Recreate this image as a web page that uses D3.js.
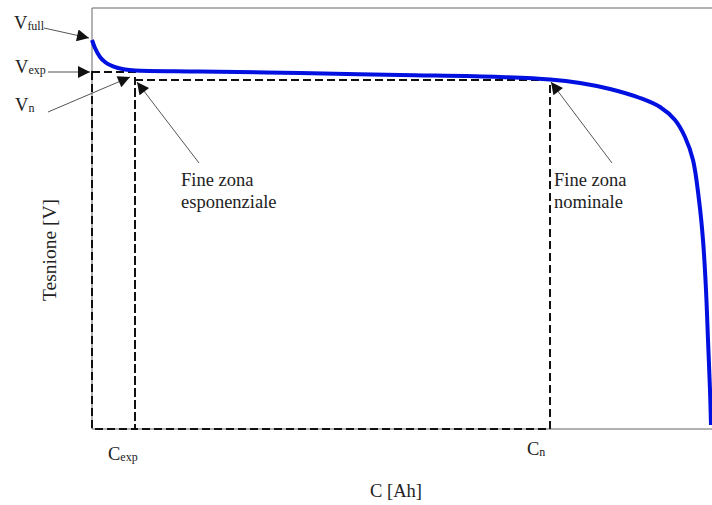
<!DOCTYPE html>
<html>
<head>
<meta charset="utf-8">
<script src="https://cdn.jsdelivr.net/npm/d3@7"></script>
<style>
  html, body { margin: 0; padding: 0; background: #fff; }
  svg text { font-family: "Liberation Serif", "Times New Roman", serif; fill: #222; }
</style>
</head>
<body>
<div id="chart"></div>
<script>
// ---- data ----
const CAPACITY = [0, 0.03, 0.08, 0.13, 0.18, 0.26, 0.33, 0.43, 1.08, 2.08, 3.08, 4.08, 4.58,
                  4.88, 5.18, 5.48, 5.68, 5.83, 5.93, 6.01, 6.07, 6.11, 6.14, 6.16, 6.18, 6.19];
const VOLTAGE  = [3.89, 3.81, 3.72, 3.67, 3.64, 3.61, 3.595, 3.585, 3.575, 3.56, 3.54, 3.52, 3.495,
                  3.46, 3.40, 3.31, 3.22, 3.09, 2.92, 2.69, 2.29, 1.89, 1.39, 0.89, 0.39, 0.04];

const C_EXP = 0.43, C_N = 4.58;
const V_FULL = 3.89, V_EXP = 3.57, V_N = 3.49;

const X_LABEL = "C [Ah]";
const Y_LABEL = "Tesnione [V]";

// ---- layout ----
const width = 712, height = 505;
const plot = { left: 92, top: 8, right: 712, bottom: 429 };
const FS = 18.5;

const svg = d3.select("#chart").append("svg")
  .attr("width", width)
  .attr("height", height);

const x = d3.scaleLinear().domain([0, 6.2]).range([plot.left, plot.right]);
const y = d3.scaleLinear().domain([0, 4.21]).range([plot.bottom, plot.top]);

// arrow head
svg.append("defs").append("marker")
  .attr("id", "head")
  .attr("viewBox", "0 0 10 10")
  .attr("refX", 10).attr("refY", 5)
  .attr("markerWidth", 15).attr("markerHeight", 12)
  .attr("markerUnits", "userSpaceOnUse")
  .attr("orient", "auto")
  .append("path")
  .attr("d", "M0,0 L10,5 L0,10 Z")
  .attr("fill", "#111");

// frame (top, left, bottom)
svg.append("path")
  .attr("d", `M${plot.right},${plot.top} L${plot.left},${plot.top} L${plot.left},${plot.bottom} L${plot.right},${plot.bottom}`)
  .attr("fill", "none")
  .attr("stroke", "#666")
  .attr("stroke-width", 1);

// dashed reference boxes
const dash = svg.append("g")
  .attr("fill", "none")
  .attr("stroke", "#111")
  .attr("stroke-width", 2)
  .attr("stroke-dasharray", "8,4");

dash.append("rect")
  .attr("x", x(0)).attr("y", y(V_EXP))
  .attr("width", x(C_EXP) - x(0))
  .attr("height", y(0) - y(V_EXP));

dash.append("rect")
  .attr("x", x(C_EXP)).attr("y", y(V_N))
  .attr("width", x(C_N) - x(C_EXP))
  .attr("height", y(0) - y(V_N));

// discharge curve
const pts = CAPACITY.map((c, i) => [c, VOLTAGE[i]]);
svg.append("path")
  .datum(pts)
  .attr("fill", "none")
  .attr("stroke", "#0010e0")
  .attr("stroke-width", 4)
  .attr("stroke-linejoin", "round")
  .attr("d", d3.line()
    .x(d => x(d[0]))
    .y(d => y(d[1]))
    .curve(d3.curveCatmullRom));

// annotation arrows
const arrows = [
  { x1: 44, y1: 28, x2: x(0) - 3, y2: y(V_FULL) - 2 },
  { x1: 48, y1: y(V_EXP), x2: x(0) - 2, y2: y(V_EXP) },
  { x1: 48, y1: 112, x2: x(C_EXP) - 5, y2: y(V_N) - 3 },
  { x1: 199, y1: 163, x2: x(C_EXP) + 2, y2: y(V_N) + 2 },
  { x1: 612, y1: 163, x2: x(C_N) + 1, y2: y(V_N) + 2 }
];
svg.append("g").selectAll("line")
  .data(arrows)
  .join("line")
  .attr("x1", d => d.x1).attr("y1", d => d.y1)
  .attr("x2", d => d.x2).attr("y2", d => d.y2)
  .attr("stroke", "#555")
  .attr("stroke-width", 1)
  .attr("marker-end", "url(#head)");

// V / C labels with subscripts
function subLabel(px, py, main, sub) {
  const t = svg.append("text")
    .attr("x", px).attr("y", py)
    .attr("font-size", FS);
  t.append("tspan").text(main);
  t.append("tspan").attr("font-size", 12).attr("dy", 1).text(sub);
}
subLabel(14, 29, "V", "full");
subLabel(15, 73, "V", "exp");
subLabel(15, 111, "V", "n");
subLabel(108, 460, "C", "exp");
subLabel(527, 455, "C", "n");

// zone notes
const notes = [
  { x: 181, lines: ["Fine zona", "esponenziale"] },
  { x: 554, lines: ["Fine zona", "nominale"] }
];
notes.forEach(n => {
  n.lines.forEach((l, i) => {
    svg.append("text")
      .attr("x", n.x)
      .attr("y", 186 + i * 22)
      .attr("font-size", FS)
      .text(l);
  });
});

// axis titles
svg.append("text")
  .attr("x", 396).attr("y", 497)
  .attr("text-anchor", "middle")
  .attr("font-size", FS)
  .text(X_LABEL);

svg.append("text")
  .attr("transform", "translate(56,250) rotate(-90)")
  .attr("text-anchor", "middle")
  .attr("font-size", 19.5)
  .text(Y_LABEL);
</script>
</body>
</html>
